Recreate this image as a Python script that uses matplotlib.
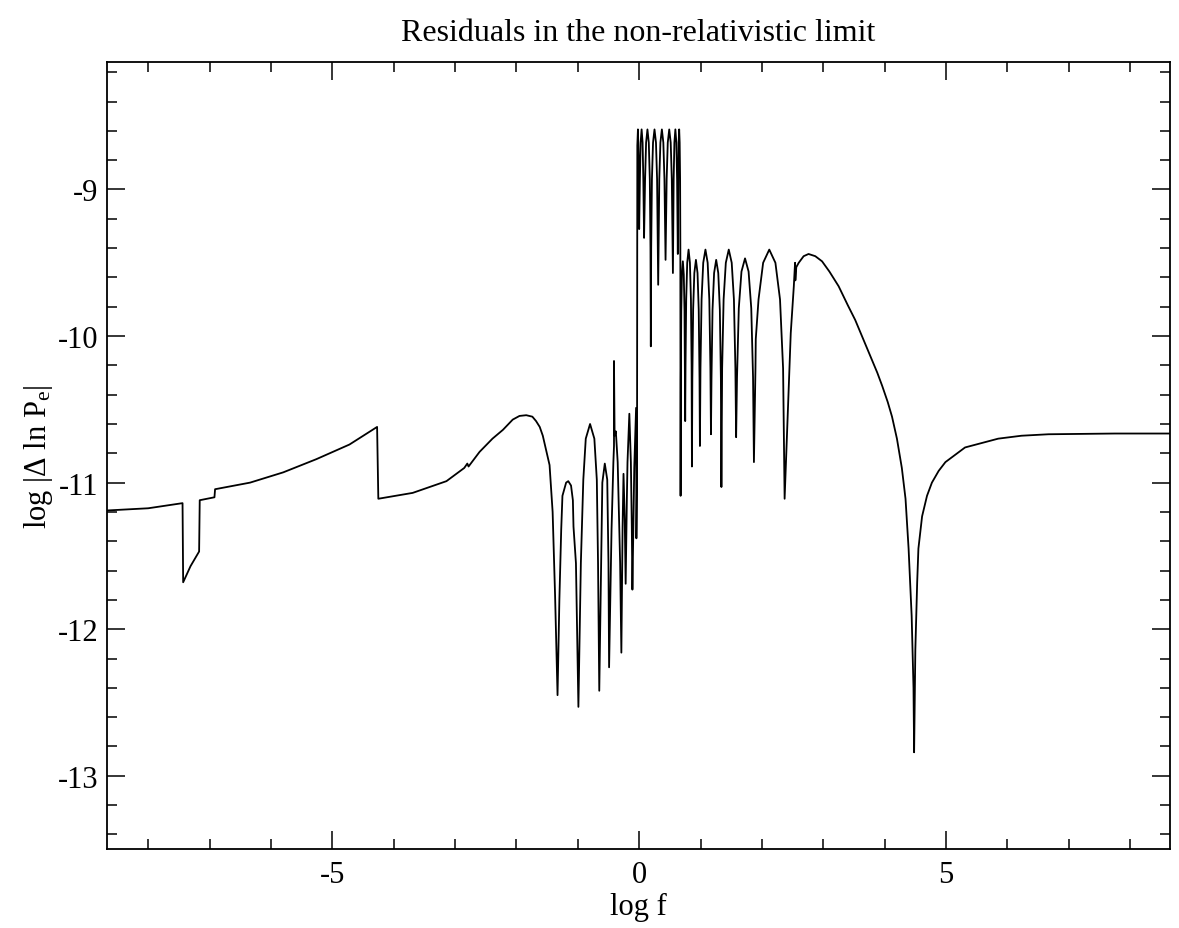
import matplotlib
matplotlib.use("Agg")
import matplotlib.pyplot as plt
from matplotlib.ticker import MultipleLocator

plt.rcParams["font.family"] = ["Liberation Serif", "DejaVu Serif"]
plt.rcParams["mathtext.fontset"] = "custom"
plt.rcParams["mathtext.rm"] = "Liberation Serif"
plt.rcParams["mathtext.it"] = "Liberation Serif:italic"
plt.rcParams["axes.unicode_minus"] = False

# --- curva: log f  vs  log |Delta ln P_e| ---
# tramo izquierdo (antes de las oscilaciones)
x_izq = [-8.67, -8.0, -7.44, -7.43, -7.31, -7.17, -7.16, -6.92, -6.91, -6.34,
         -5.80, -5.26, -4.72, -4.27, -4.25, -3.69, -3.14, -2.85, -2.80, -2.78,
         -2.60, -2.39, -2.22, -2.06, -1.95, -1.84, -1.74, -1.68, -1.62, -1.57,
         -1.52, -1.46, -1.41, -1.37, -1.33]
y_izq = [-11.19, -11.175, -11.14, -11.68, -11.57, -11.47, -11.12, -11.10, -11.045, -11.0,
         -10.93, -10.84, -10.74, -10.62, -11.11, -11.07, -10.99, -10.90, -10.87, -10.89,
         -10.79, -10.70, -10.64, -10.57, -10.545, -10.54, -10.55, -10.58, -10.62, -10.68,
         -10.77, -10.88, -11.2, -11.77, -12.45]

# oscilaciones antes de log f = 0
x_osc1 = [-1.30, -1.27, -1.25, -1.19, -1.155, -1.11, -1.08, -1.07, -1.03, -0.99,
          -0.95, -0.91, -0.87, -0.80, -0.73, -0.69, -0.67, -0.65,
          -0.62, -0.60, -0.56, -0.52, -0.50, -0.49,
          -0.45, -0.42, -0.41, -0.41, -0.40, -0.38, -0.35, -0.31, -0.29,
          -0.27, -0.255, -0.235, -0.22,
          -0.20, -0.19, -0.16, -0.135, -0.12, -0.11,
          -0.08, -0.05, -0.045]
y_osc1 = [-11.8, -11.32, -11.09, -11.0, -10.99, -11.02, -11.12, -11.3, -11.55, -12.53,
          -11.55, -10.98, -10.70, -10.60, -10.70, -10.98, -11.55, -12.42,
          -11.55, -11.0, -10.87, -10.98, -11.55, -12.26,
          -11.32, -10.86, -10.75, -10.17, -10.68, -10.65, -10.86, -11.55, -12.16,
          -11.3, -10.94, -11.25, -11.69,
          -11.1, -10.86, -10.53, -10.86, -11.3, -11.73,
          -10.9, -10.49, -11.38]

# bloque superior (0 < log f < 0.68)
x_osc2 = [-0.035, -0.03, -0.02, -0.008, 0.0,
          0.012, 0.024, 0.04, 0.056, 0.068, 0.08,
          0.0965, 0.113, 0.135, 0.157, 0.1735, 0.1845, 0.19,
          0.196, 0.208, 0.226, 0.25, 0.274, 0.292, 0.304, 0.31,
          0.328, 0.346, 0.37, 0.394, 0.412, 0.43,
          0.448, 0.466, 0.49, 0.514, 0.532, 0.55,
          0.562, 0.574, 0.59, 0.606, 0.618, 0.63,
          0.637, 0.6435, 0.652, 0.66, 0.667, 0.671]
y_osc2 = [-11.0, -8.7, -8.59, -8.8, -9.27,
          -8.93, -8.68, -8.59, -8.68, -8.93, -9.33,
          -8.93, -8.68, -8.59, -8.68, -8.93, -9.4, -10.07,
          -9.4, -8.93, -8.68, -8.59, -8.68, -8.93, -9.4, -9.65,
          -8.93, -8.68, -8.59, -8.68, -8.93, -9.48,
          -8.93, -8.68, -8.59, -8.68, -8.93, -9.57,
          -8.93, -8.68, -8.59, -8.68, -8.93, -9.44,
          -8.93, -8.68, -8.59, -8.68, -8.93, -9.4]

# segundo bloque de oscilaciones (0.68 < log f < 2.4)
x_osc3 = [0.675, 0.679, 0.686, 0.697, 0.712, 0.727, 0.739, 0.746,
          0.75, 0.7555, 0.7665, 0.783, 0.805, 0.827, 0.8435, 0.8545,
          0.86, 0.8665, 0.8795, 0.899, 0.925, 0.951, 0.9705, 0.9835,
          0.99, 0.999, 1.017, 1.044, 1.08, 1.116, 1.143, 1.161,
          1.17, 1.1785, 1.1955, 1.221, 1.255, 1.289, 1.3145, 1.3315,
          1.34, 1.352, 1.376, 1.412, 1.46, 1.508, 1.544, 1.568,
          1.58, 1.5945, 1.6235, 1.667, 1.725, 1.783, 1.8265, 1.8555,
          1.87, 1.895, 1.90, 1.945, 2.02, 2.12, 2.22, 2.295, 2.345, 2.37]
y_osc3 = [-11.09, -10.3, -9.83, -9.58, -9.49, -9.58, -9.83, -10.3,
          -10.58, -10.2, -9.75, -9.5, -9.41, -9.5, -9.75, -10.2,
          -10.89, -10.29, -9.82, -9.57, -9.48, -9.57, -9.82, -10.29,
          -10.75, -10.22, -9.75, -9.5, -9.41, -9.5, -9.75, -10.22,
          -10.67, -10.29, -9.82, -9.57, -9.48, -9.57, -9.82, -10.29,
          -11.03, -10.22, -9.75, -9.5, -9.41, -9.5, -9.75, -10.22,
          -10.69, -10.28, -9.81, -9.56, -9.47, -9.56, -9.81, -10.28,
          -10.86, -10.22, -10.02, -9.75, -9.5, -9.41, -9.5, -9.75, -10.22, -11.11]

# gran lobulo, caida en log f ~ 4.5 y meseta final
x_cola = [2.41, 2.47, 2.52, 2.54, 2.545, 2.56, 2.60, 2.68, 2.76, 2.87,
          2.98, 3.10, 3.25, 3.40, 3.52, 3.65, 3.79, 3.88, 3.96, 4.05,
          4.12, 4.20, 4.28, 4.34, 4.39, 4.44, 4.47, 4.48, 4.50, 4.53,
          4.55, 4.61, 4.69, 4.77, 4.88, 4.99, 5.15, 5.31, 5.58, 5.85,
          6.23, 6.67, 7.75, 8.67]
y_cola = [-10.66, -9.98, -9.66, -9.50, -9.62, -9.53, -9.50, -9.455, -9.44, -9.455,
          -9.49, -9.56, -9.66, -9.79, -9.89, -10.02, -10.16, -10.25, -10.34, -10.45,
          -10.55, -10.70, -10.90, -11.11, -11.45, -11.91, -12.4, -12.84, -12.14, -11.68,
          -11.45, -11.23, -11.09, -11.0, -10.92, -10.86, -10.81, -10.76, -10.73, -10.70,
          -10.68, -10.67, -10.665, -10.665]

log_f = x_izq + x_osc1 + x_osc2 + x_osc3 + x_cola
residuo = y_izq + y_osc1 + y_osc2 + y_osc3 + y_cola

fig = plt.figure(figsize=(11.79, 9.29), dpi=100)
ax = fig.add_axes([0.0908, 0.085, 0.9016, 0.8472])
ax.plot(log_f, residuo, color="black", linewidth=1.3)

ax.set_xlim(-8.67, 8.65)
ax.set_ylim(-13.5, -8.13)
ax.xaxis.set_major_locator(MultipleLocator(5))
ax.xaxis.set_minor_locator(MultipleLocator(1))
ax.yaxis.set_major_locator(MultipleLocator(1))
ax.yaxis.set_minor_locator(MultipleLocator(0.2))
ax.tick_params(which="both", direction="in", top=True, right=True,
               labelsize=22, width=1.1, color="black")
ax.tick_params(axis="x", pad=8)
ax.tick_params(axis="y", pad=6)
ax.tick_params(which="major", length=13)
ax.tick_params(which="minor", length=7)
for s in ax.spines.values():
    s.set_linewidth(1.3)

ax.set_xlabel("log f", fontsize=22, labelpad=2)
ax.set_ylabel(r"log |Δ ln P$_\mathregular{e}$|", fontsize=22, labelpad=2)
ax.set_title("Residuals in the non-relativistic limit", fontsize=23, pad=16)

fig.savefig("out.png", dpi=100)
